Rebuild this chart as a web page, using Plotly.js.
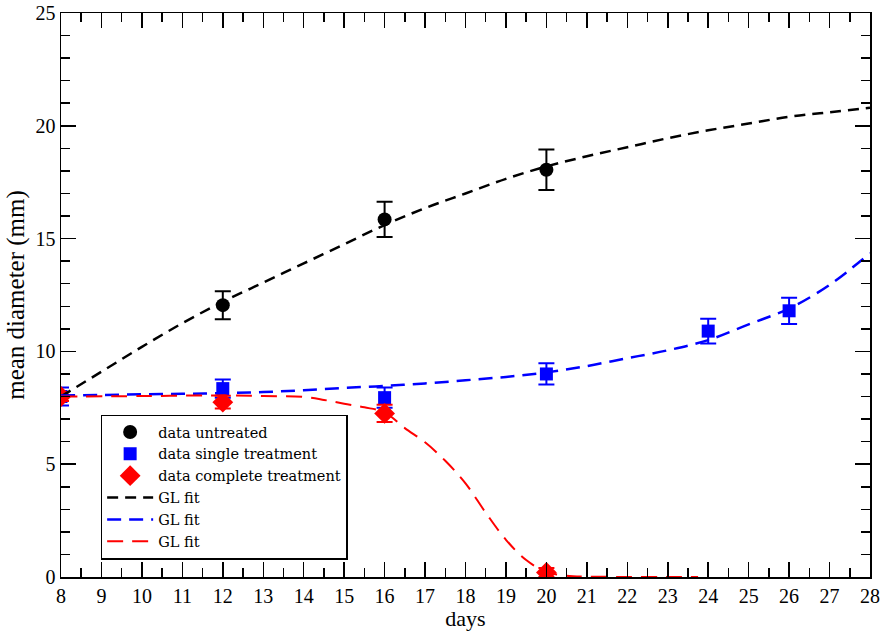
<!DOCTYPE html>
<html>
<head>
<meta charset="utf-8">
<script src="https://cdn.plot.ly/plotly-3.0.1.min.js"></script>
<style>
html,body{margin:0;padding:0;background:#fff;}
#chart{width:886px;height:636px;}
</style>
</head>
<body>
<div id="chart"></div>
<script>
// Data points
const dayUntreated = [8, 12, 16, 20];
const valUntreated = [8.0, 12.05, 15.85, 18.05];
const errUntreated = [0, 0.62, 0.78, 0.9];

const daySingle = [8, 12, 16, 20, 24, 26];
const valSingle = [8.0, 8.35, 7.95, 9.0, 10.9, 11.8];
const errSingle = [0.4, 0.4, 0.45, 0.47, 0.55, 0.58];

const dayComplete = [8, 12, 16, 20];
const valComplete = [8.0, 7.75, 7.25, 0.2];
const errComplete = [0.2, 0.28, 0.38, 0.2];

// GL fit curves
const fitDaysBlack = [8, 9, 10, 11, 12, 13, 14, 15, 16, 17, 18, 19, 20, 21, 22, 23, 24, 25, 26, 27, 28];
const fitBlack = [8.0, 9.1, 10.2, 11.25, 12.2, 13.05, 13.9, 14.75, 15.6, 16.35, 17.0, 17.65, 18.2, 18.65, 19.05, 19.45, 19.8, 20.1, 20.4, 20.6, 20.8];

const fitDaysBlue = [8, 9, 10, 11, 12, 13, 14, 15, 16, 17, 18, 19, 20, 21, 22, 23, 24, 25, 26, 27, 28];
const fitBlue = [8.05, 8.07, 8.1, 8.12, 8.15, 8.2, 8.28, 8.38, 8.47, 8.58, 8.72, 8.87, 9.07, 9.35, 9.7, 10.05, 10.5, 11.2, 11.9, 12.95, 14.35];

const fitDaysRed = [8, 10, 12, 13, 14, 14.5, 15, 15.5, 16, 16.5, 17, 17.5, 18, 18.5, 19, 19.5, 20, 20.5, 21, 22, 23, 23.75];
const fitRed = [8.0, 8.02, 8.05, 8.02, 7.98, 7.85, 7.68, 7.52, 7.3, 6.6, 5.97, 5.15, 4.15, 2.85, 1.65, 0.75, 0.22, 0.06, 0.02, 0.0, 0.0, 0.0];

const legendNames = ['data untreated', 'data single treatment', 'data complete treatment', 'GL fit', 'GL fit', 'GL fit'];

const serif = 'Liberation Serif, Times New Roman, serif';

const traces = [
  {x: dayUntreated, y: valUntreated, name: legendNames[0], mode: 'markers', type: 'scatter',
   marker: {symbol: 'circle', size: 14, color: '#000'},
   error_y: {type: 'data', array: errUntreated, visible: true, color: '#000', thickness: 2, width: 8}},
  {x: daySingle, y: valSingle, name: legendNames[1], mode: 'markers', type: 'scatter',
   marker: {symbol: 'square', size: 13, color: '#0000ff'},
   error_y: {type: 'data', array: errSingle, visible: true, color: '#0000ff', thickness: 2, width: 8}},
  {x: dayComplete, y: valComplete, name: legendNames[2], mode: 'markers', type: 'scatter',
   marker: {symbol: 'diamond', size: 16, color: '#ff0000'},
   error_y: {type: 'data', array: errComplete, visible: true, color: '#ff0000', thickness: 2, width: 8}},
  {x: fitDaysBlack, y: fitBlack, name: legendNames[3], mode: 'lines', type: 'scatter', line: {shape: 'spline', color: '#000', width: 2.5, dash: '11px,7px'}},
  {x: fitDaysBlue, y: fitBlue, name: legendNames[4], mode: 'lines', type: 'scatter', line: {shape: 'spline', color: '#0000ff', width: 2.5, dash: '14px,8px'}},
  {x: fitDaysRed, y: fitRed, name: legendNames[5], mode: 'lines', type: 'scatter', line: {shape: 'spline', color: '#ff0000', width: 2, dash: '16px,9px'}}
];

const axisCommon = {
  showgrid: false, zeroline: false, showline: true, linecolor: '#000', linewidth: 1.5,
  mirror: 'allticks', ticks: 'inside', tickcolor: '#000', tickwidth: 1.5, ticklen: 15,
  tickfont: {family: serif, size: 20, color: '#000'}, ticklabeloverflow: 'allow'
};

const layout = {
  width: 886, height: 636,
  margin: {l: 61, r: 16, t: 13, b: 59},
  paper_bgcolor: '#fff', plot_bgcolor: '#fff',
  showlegend: true,
  legend: {x: 0.049, y: 0.288, xanchor: 'left', yanchor: 'top', bordercolor: '#000', borderwidth: 1.5,
           bgcolor: '#fff', font: {family: 'DejaVu Serif, serif', size: 14.5, color: '#000'}, tracegroupgap: 0, itemwidth: 46},
  xaxis: Object.assign({}, axisCommon, {range: [8, 28], dtick: 1, tick0: 8,
    minor: {ticks: 'inside', dtick: 0.5, ticklen: 9, tickcolor: '#000', tickwidth: 1.5},
    title: {text: 'days', font: {family: serif, size: 22, color: '#000'}, standoff: 0}}),
  yaxis: Object.assign({}, axisCommon, {range: [0, 25], dtick: 5, tick0: 0,
    minor: {ticks: 'inside', dtick: 1, ticklen: 9, tickcolor: '#000', tickwidth: 1.5},
    title: {text: 'mean diameter (mm)', font: {family: serif, size: 25, color: '#000'}, standoff: 4}})
};

Plotly.newPlot('chart', traces, layout, {displayModeBar: false, staticPlot: true});
</script>
</body>
</html>
